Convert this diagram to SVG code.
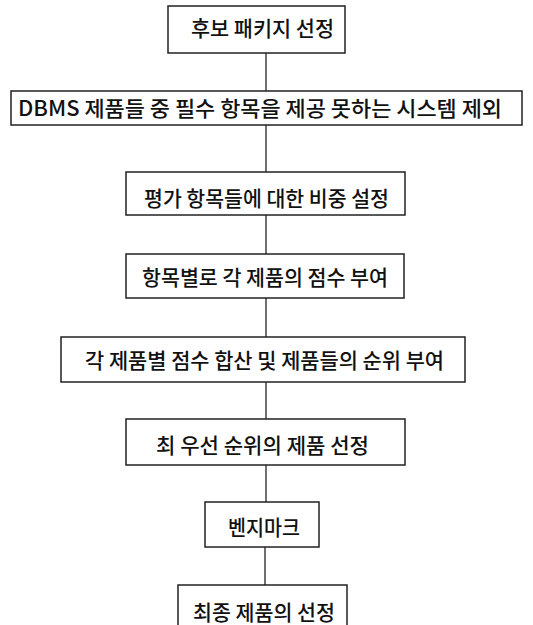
<svg xmlns="http://www.w3.org/2000/svg" width="533" height="625" viewBox="0 0 533 625">
<style>
.box{fill:#fff;stroke:#222;stroke-width:1.5}
.lbl{font-family:"Noto Sans CJK KR","Noto Sans CJK SC",sans-serif;font-size:21px;fill:#111;font-weight:500}
.con{stroke:#222;stroke-width:1.3;fill:none}
</style>
<rect width="533" height="625" fill="#fff"/>
<g id="connectors">
<line class="con" x1="266" y1="53" x2="266" y2="91"/>
<line class="con" x1="266" y1="125" x2="266" y2="172"/>
<line class="con" x1="266" y1="215" x2="266" y2="254"/>
<line class="con" x1="266" y1="298" x2="266" y2="337"/>
<line class="con" x1="266" y1="382" x2="266" y2="419"/>
<line class="con" x1="266" y1="465" x2="266" y2="502"/>
<line class="con" x1="265" y1="547" x2="265" y2="585"/>
</g>
<g id="n1"><rect class="box" x="168" y="6" width="177" height="47"/><text class="lbl" x="191" y="36" textLength="143" lengthAdjust="spacingAndGlyphs">후보 패키지 선정</text></g>
<g id="n2"><rect class="box" x="11" y="91" width="511" height="34"/><text class="lbl" x="18" y="116" textLength="484" lengthAdjust="spacingAndGlyphs">DBMS 제품들 중 필수 항목을 제공 못하는 시스템 제외</text></g>
<g id="n3"><rect class="box" x="126" y="172" width="279" height="43"/><text class="lbl" x="144" y="206" textLength="245" lengthAdjust="spacingAndGlyphs">평가 항목들에 대한 비중 설정</text></g>
<g id="n4"><rect class="box" x="126" y="254" width="278" height="44"/><text class="lbl" x="142" y="285" textLength="246" lengthAdjust="spacingAndGlyphs">항목별로 각 제품의 점수 부여</text></g>
<g id="n5"><rect class="box" x="61" y="337" width="404" height="45"/><text class="lbl" x="85" y="368" textLength="359" lengthAdjust="spacingAndGlyphs">각 제품별 점수 합산 및 제품들의 순위 부여</text></g>
<g id="n6"><rect class="box" x="126" y="419" width="279" height="46"/><text class="lbl" x="156" y="453" textLength="213" lengthAdjust="spacingAndGlyphs">최 우선 순위의 제품 선정</text></g>
<g id="n7"><rect class="box" x="205" y="502" width="114" height="45"/><text class="lbl" x="228" y="535" textLength="72" lengthAdjust="spacingAndGlyphs">벤지마크</text></g>
<g id="n8"><rect class="box" x="178" y="585" width="169" height="50"/><text class="lbl" x="193" y="620" textLength="142" lengthAdjust="spacingAndGlyphs">최종 제품의 선정</text></g>
</svg>
